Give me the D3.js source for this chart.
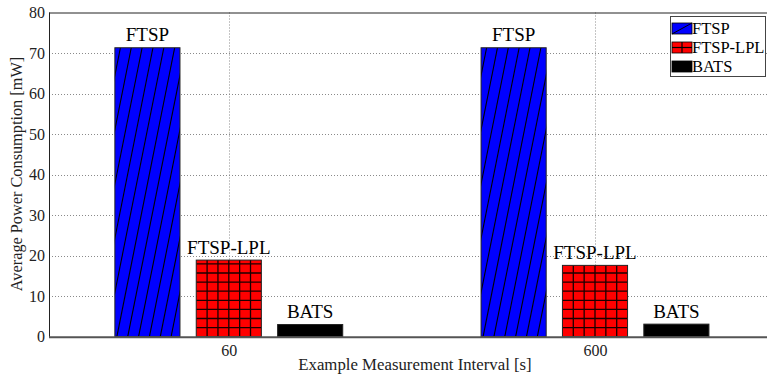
<!DOCTYPE html>
<html>
<head>
<meta charset="utf-8">
<script src="https://cdn.jsdelivr.net/npm/d3@7"></script>
<style>
  html, body { margin: 0; padding: 0; background: #fff; }
  svg { display: block; }
  svg text { font-family: "Liberation Serif", "Times New Roman", serif; }
</style>
</head>
<body>
<svg id="chart" width="767" height="379"></svg>
<script>
// Measurement intervals (categories) and series
const categories = ["60", "600"];
const seriesNames = ["FTSP", "FTSP-LPL", "BATS"];
const ftsp = [71.3, 71.3];
const ftspLpl = [18.9, 17.6];
const bats = [3.0, 3.1];
const yTicks = [0, 10, 20, 30, 40, 50, 60, 70, 80];

const seriesValues = [ftsp, ftspLpl, bats];
const fills = { "FTSP": "#0000ff", "FTSP-LPL": "#ff0000", "BATS": "#000000" };
const SERIF = "'Liberation Serif', 'Times New Roman', serif";

const svg = d3.select("#chart");
const W = 767;
const plotLeft = 49, plotTop = 12.5, plotBottom = 336.7;

const x = d3.scaleLinear().domain([1, 2]).range([228.8, 595]);
const inner = d3.scaleBand().domain(seriesNames).range([-1/3, 1/3]).paddingInner(0.2).paddingOuter(0.1);
const y = d3.scaleLinear().domain([0, 80]).range([plotBottom, plotTop]);

const bars = [];
categories.forEach((c, ci) => {
  seriesNames.forEach((s, si) => {
    const x0 = x(ci + 1 + inner(s));
    const x1 = x(ci + 1 + inner(s) + inner.bandwidth());
    bars.push({ cat: c, series: s, value: seriesValues[si][ci], x0, x1, id: `b${ci}${si}` });
  });
});

// Grid
const grid = svg.append("g");
grid.selectAll("line.h").data(yTicks.filter(t => t > 0 && t < 80)).join("line")
  .attr("x1", plotLeft).attr("x2", W).attr("y1", d => Math.round(y(d)) + 0.5).attr("y2", d => Math.round(y(d)) + 0.5)
  .attr("stroke", "#8a8a8a").attr("stroke-width", 1).attr("stroke-dasharray", "1,2");
grid.selectAll("line.v").data(categories).join("line")
  .attr("x1", (d, i) => Math.round(x(i + 1)) + 0.5).attr("x2", (d, i) => Math.round(x(i + 1)) + 0.5)
  .attr("y1", plotTop).attr("y2", plotBottom)
  .attr("stroke", "#8a8a8a").attr("stroke-width", 1).attr("stroke-dasharray", "1,2");

// Bars with hatching clipped to each bar
const defs = svg.append("defs");
const barG = svg.append("g");
bars.forEach(b => {
  const w = b.x1 - b.x0;
  const yTop = y(b.value), yBot = y(0), h = yBot - yTop;
  defs.append("clipPath").attr("id", "c" + b.id)
    .append("rect").attr("x", b.x0).attr("y", yTop).attr("width", w).attr("height", h);
  const g = barG.append("g");
  g.append("rect").attr("x", b.x0).attr("y", yTop).attr("width", w).attr("height", h)
    .attr("fill", fills[b.series]);
  const hg = g.append("g").attr("clip-path", `url(#c${b.id})`);
  if (b.series === "FTSP") {
    const step = w / 6, slope = 0.2;
    const ks = d3.range(-Math.ceil(slope * h / step) - 1, 8);
    hg.selectAll("line").data(ks).join("line")
      .attr("x1", k => b.x0 + 2 + k * step).attr("y1", yBot)
      .attr("x2", k => b.x0 + 2 + k * step + slope * h).attr("y2", yTop)
      .attr("stroke", "#000").attr("stroke-width", 1.1);
  } else if (b.series === "FTSP-LPL") {
    const cw = w / 6, ch = 9.1;
    hg.selectAll("line.v").data(d3.range(1, 6)).join("line").attr("class", "v")
      .attr("x1", k => b.x0 + k * cw).attr("x2", k => b.x0 + k * cw)
      .attr("y1", yTop).attr("y2", yBot)
      .attr("stroke", "#1a0000").attr("stroke-width", 1.3);
    hg.selectAll("line.h").data(d3.range(1, Math.ceil(h / ch) + 1)).join("line").attr("class", "h")
      .attr("x1", b.x0).attr("x2", b.x1)
      .attr("y1", k => yBot - k * ch).attr("y2", k => yBot - k * ch)
      .attr("stroke", "#1a0000").attr("stroke-width", 1.3);
  }
  g.append("rect").attr("x", b.x0).attr("y", yTop).attr("width", w).attr("height", h)
    .attr("fill", "none").attr("stroke", "#222").attr("stroke-width", 1);
});

// Series labels above bars
svg.append("g").selectAll("text").data(bars).join("text")
  .attr("x", d => (d.x0 + d.x1) / 2).attr("y", d => y(d.value) - 6.5)
  .attr("text-anchor", "middle").attr("font-size", 19).attr("font-family", SERIF).attr("fill", "#000")
  .text(d => d.series);

// Axes frame
svg.append("line").attr("x1", plotLeft).attr("x2", W).attr("y1", plotTop + 0.5).attr("y2", plotTop + 0.5)
  .attr("stroke", "#222").attr("stroke-width", 1);
svg.append("line").attr("x1", plotLeft + 0.5).attr("x2", plotLeft + 0.5).attr("y1", plotTop).attr("y2", plotBottom + 1)
  .attr("stroke", "#222").attr("stroke-width", 1);
svg.append("line").attr("x1", plotLeft).attr("x2", W).attr("y1", plotBottom + 0.5).attr("y2", plotBottom + 0.5)
  .attr("stroke", "#555").attr("stroke-width", 2);

// Y axis
const yAxis = d3.axisLeft(y).tickValues(yTicks).tickSize(0).tickPadding(4);
const ya = svg.append("g").attr("transform", `translate(${plotLeft},0)`).call(yAxis)
  .attr("font-family", SERIF);
ya.select(".domain").remove();
ya.selectAll("text").attr("font-size", 16).attr("fill", "#222").attr("font-family", SERIF);

// X axis
const xAxis = d3.axisBottom(x).tickValues([1, 2]).tickFormat((d, i) => categories[i]).tickSize(0).tickPadding(8);
const xa = svg.append("g").attr("transform", `translate(0,${plotBottom})`).call(xAxis)
  .attr("font-family", SERIF);
xa.select(".domain").remove();
xa.selectAll("text").attr("font-size", 16).attr("fill", "#222").attr("font-family", SERIF);

// Axis titles
svg.append("text").attr("x", 415).attr("y", 369.5).attr("text-anchor", "middle")
  .attr("font-size", 16.8).attr("font-family", SERIF).attr("fill", "#222")
  .text("Example Measurement Interval [s]");
svg.append("text").attr("transform", "translate(21.5,174) rotate(-90)").attr("text-anchor", "middle")
  .attr("font-size", 16.3).attr("font-family", SERIF).attr("fill", "#222")
  .text("Average Power Consumption [mW]");

// Legend
const lg = svg.append("g");
lg.append("rect").attr("x", 670.5).attr("y", 16.5).attr("width", 95).attr("height", 60)
  .attr("fill", "#fff").attr("stroke", "#444").attr("stroke-width", 1);
const rows = [28.5, 47.5, 66.5];
seriesNames.forEach((s, i) => {
  const cy = rows[i];
  const sx = 672, sw = 20, sh = 11, sy = cy - sh / 2;
  lg.append("rect").attr("x", sx).attr("y", sy).attr("width", sw).attr("height", sh)
    .attr("fill", fills[s]).attr("stroke", "#000").attr("stroke-width", 0.8);
  if (s === "FTSP") {
    lg.append("line").attr("x1", sx).attr("y1", sy + sh).attr("x2", sx + sw).attr("y2", sy)
      .attr("stroke", "#000").attr("stroke-width", 1);
  } else if (s === "FTSP-LPL") {
    lg.append("line").attr("x1", sx + sw / 2).attr("x2", sx + sw / 2).attr("y1", sy).attr("y2", sy + sh)
      .attr("stroke", "#000").attr("stroke-width", 1.2);
    lg.append("line").attr("x1", sx).attr("x2", sx + sw).attr("y1", cy).attr("y2", cy)
      .attr("stroke", "#000").attr("stroke-width", 1.2);
  }
  lg.append("text").attr("x", sx + sw).attr("y", cy + 5.5).attr("font-size", 16.5)
    .attr("font-family", SERIF).attr("fill", "#000").text(s);
});
</script>
</body>
</html>
